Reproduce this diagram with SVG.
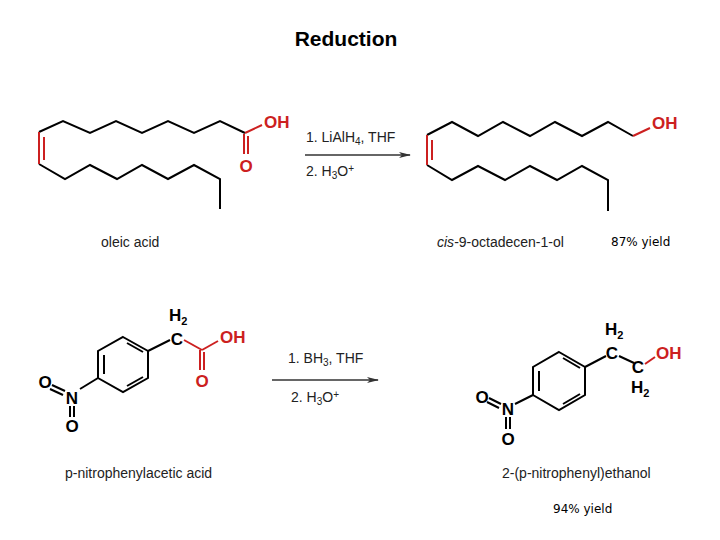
<svg xmlns="http://www.w3.org/2000/svg" width="720" height="540" viewBox="0 0 720 540">
<style>
.b{fill:none;stroke:#000;stroke-width:2;stroke-linejoin:miter}
.r{fill:none;stroke:#cc2020;stroke-width:2}
.t{font-family:"Liberation Sans",Arial,sans-serif;font-size:14px;fill:#222}
.a{font-family:"Liberation Sans",Arial,sans-serif;font-size:17px;font-weight:bold}
.ar{fill:#cc2020}
.y{font-family:"DejaVu Sans",sans-serif;font-size:12px;fill:#000}
</style>
<defs><marker id="h" markerWidth="12" markerHeight="8" refX="11" refY="4" orient="auto" markerUnits="userSpaceOnUse"><path d="M0,1 L12,4 L0,7 L3,4 Z" fill="#333"/></marker></defs>
<rect width="720" height="540" fill="#fff"/>
<text x="346" y="46" text-anchor="middle" font-family="Liberation Sans,Arial,sans-serif" font-size="21" font-weight="bold">Reduction</text>
<g id="oleic">
<polyline class="b" points="245,133 220,121 194,133 168,121 142,133 116,121 90,133 63,121 39,132"/>
<polyline class="b" points="39,164 65,179 90,165 117,179 142,165 168,179 194,165 220,179 220,209"/>
<line class="r" x1="39" y1="132" x2="39" y2="164"/><line class="r" x1="44" y1="137" x2="44" y2="160"/>
<line class="r" x1="245" y1="133" x2="262" y2="125"/>
<line class="r" x1="244" y1="134" x2="244" y2="154"/><line class="r" x1="248" y1="136" x2="248" y2="154"/>
<text class="a ar" x="264" y="128">OH</text>
<text class="a ar" x="246" y="172" text-anchor="middle">O</text>
<text class="t" x="101" y="247">oleic acid</text>
</g>
<g id="octadecenol">
<polyline class="b" points="633,136 608,122 582,136 555,122 530,136 503,122 478,136 452,122 427,135"/>
<polyline class="b" points="427,165 452,180 478,166 505,180 530,166 557,180 582,166 608,180 608,211"/>
<line class="r" x1="427" y1="135" x2="427" y2="165"/><line class="r" x1="432" y1="140" x2="432" y2="160"/>
<line class="r" x1="633" y1="136" x2="650" y2="128"/>
<text class="a ar" x="652" y="129">OH</text>
<text class="t" x="437" y="247"><tspan font-style="italic">cis</tspan>-9-octadecen-1-ol</text>
<text class="y" x="611" y="246">87% yield</text>
</g>
<g id="nitrophenylacetic">
<polygon class="b" points="123,337 148,351 148,378 123,392 98,378 98,351"/>
<line class="b" x1="104" y1="355" x2="104" y2="374"/><line class="b" x1="127" y1="343" x2="143" y2="352"/><line class="b" x1="127" y1="386" x2="143" y2="377"/>
<line class="b" x1="148" y1="351" x2="170" y2="340"/>
<text class="a" x="177" y="345" text-anchor="middle">C</text>
<text class="a" x="169" y="321">H<tspan font-size="11" dy="4">2</tspan></text>
<line class="r" x1="184" y1="340" x2="202" y2="350"/>
<line class="r" x1="202" y1="350" x2="218" y2="341"/>
<line class="r" x1="200" y1="350" x2="200" y2="370"/><line class="r" x1="204" y1="352" x2="204" y2="370"/>
<text class="a ar" x="220" y="343">OH</text>
<text class="a ar" x="202" y="387" text-anchor="middle">O</text>
<line class="b" x1="98" y1="378" x2="80" y2="389"/>
<text class="a" x="72" y="404" text-anchor="middle">N</text>
<line class="b" x1="65" y1="391" x2="52" y2="385"/><line class="b" x1="63" y1="395" x2="50" y2="389"/>
<text class="a" x="45" y="388" text-anchor="middle">O</text>
<line class="b" x1="70" y1="406" x2="70" y2="417"/><line class="b" x1="74" y1="406" x2="74" y2="417"/>
<text class="a" x="72" y="432" text-anchor="middle">O</text>
<text class="t" x="65" y="478">p-nitrophenylacetic acid</text>
</g>
<g id="nitrophenylethanol">
<polygon class="b" points="559,352 585,367 585,395 559,410 533,395 533,367"/>
<line class="b" x1="539" y1="371" x2="539" y2="391"/><line class="b" x1="563" y1="358" x2="580" y2="368"/><line class="b" x1="563" y1="404" x2="580" y2="394"/>
<line class="b" x1="585" y1="367" x2="606" y2="356"/>
<text class="a" x="612" y="359" text-anchor="middle">C</text>
<text class="a" x="605" y="335">H<tspan font-size="11" dy="4">2</tspan></text>
<line class="b" x1="619" y1="356" x2="634" y2="363"/>
<text class="a" x="638" y="373" text-anchor="middle">C</text>
<text class="a" x="631" y="393">H<tspan font-size="11" dy="4">2</tspan></text>
<line class="r" x1="645" y1="364" x2="655" y2="357"/>
<text class="a ar" x="656" y="359">OH</text>
<line class="b" x1="533" y1="395" x2="515" y2="404"/>
<text class="a" x="508" y="415" text-anchor="middle">N</text>
<line class="b" x1="501" y1="404" x2="489" y2="398"/><line class="b" x1="499" y1="408" x2="487" y2="402"/>
<text class="a" x="482" y="403" text-anchor="middle">O</text>
<line class="b" x1="506" y1="417" x2="506" y2="429"/><line class="b" x1="510" y1="417" x2="510" y2="429"/>
<text class="a" x="508" y="445" text-anchor="middle">O</text>
<text class="t" x="502" y="478">2-(p-nitrophenyl)ethanol</text>
<text class="y" x="553" y="513">94% yield</text>
</g>
<g id="connectors">
<line x1="305" y1="155" x2="410" y2="155" stroke="#333" stroke-width="1.5" marker-end="url(#h)"/>
<line x1="272" y1="380" x2="378" y2="380" stroke="#333" stroke-width="1.5" marker-end="url(#h)"/>
<text class="t" x="306" y="142">1. LiAlH<tspan font-size="10" dy="3">4</tspan><tspan dy="-3">, THF</tspan></text>
<text class="t" x="306" y="176">2. H<tspan font-size="10" dy="3">3</tspan><tspan dy="-3">O</tspan><tspan font-size="10" dy="-4">+</tspan></text>
<text class="t" x="288" y="363">1. BH<tspan font-size="10" dy="3">3</tspan><tspan dy="-3">, THF</tspan></text>
<text class="t" x="291" y="402">2. H<tspan font-size="10" dy="3">3</tspan><tspan dy="-3">O</tspan><tspan font-size="10" dy="-4">+</tspan></text>
</g>
</svg>
